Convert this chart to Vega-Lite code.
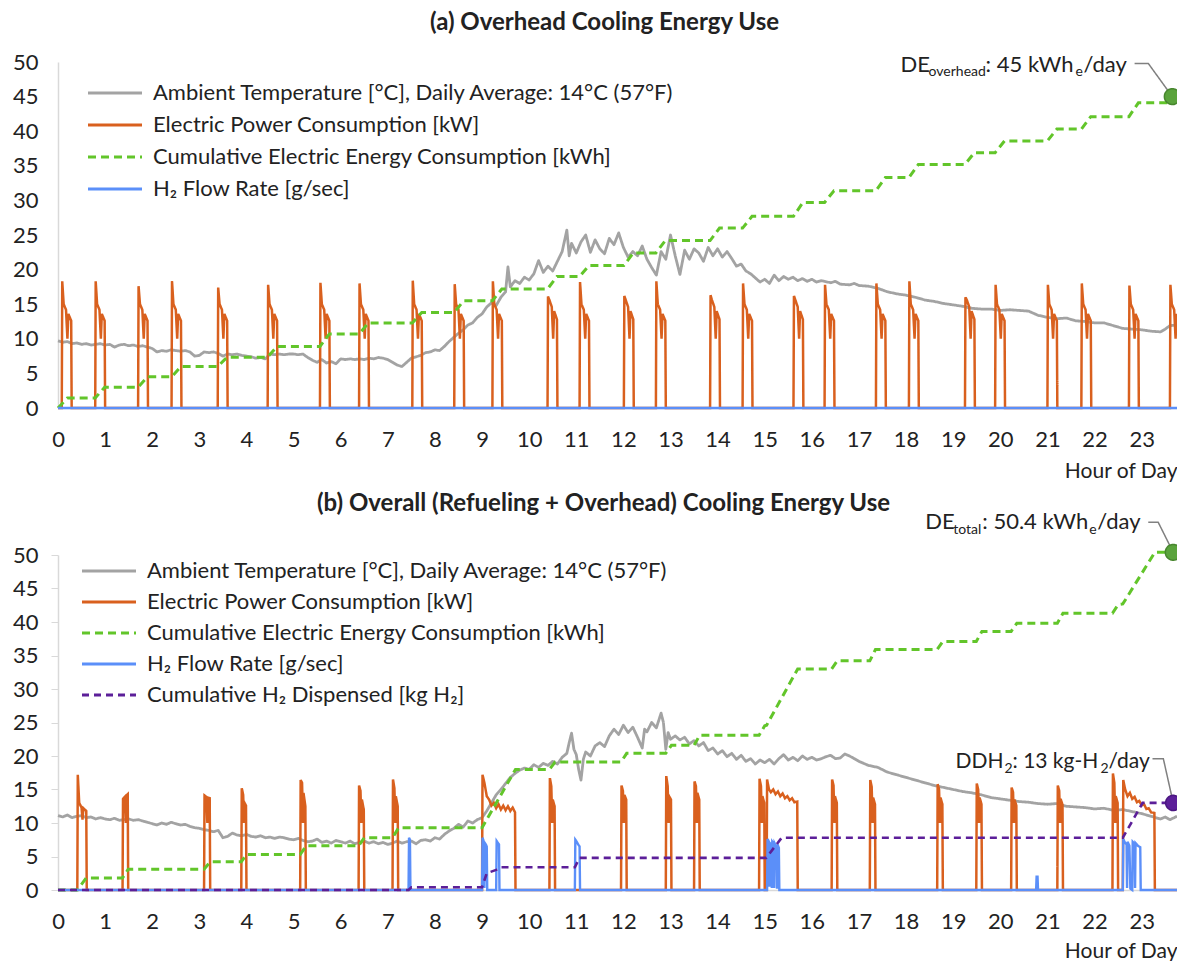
{
"$schema":"https://vega.github.io/schema/vega-lite/v6.json",
"padding":{"left":12,"top":11,"right":0,"bottom":0},
"config":{"font":"Lato","view":{"stroke":null},
"axis":{"labelFont":"Lato","labelFontSize":22,"labelColor":"#222","grid":false,"domainColor":"#d9d9d9","domainWidth":1.5,"tickColor":"#d9d9d9","titleFont":"Lato","titleFontSize":21,"titleFontWeight":"normal","titleColor":"#222"},
"legend":{"orient":"none","title":null,"labelFont":"Lato","labelFontSize":22,"labelColor":"#222","symbolType":"M-3,0H3","symbolSize":324,"symbolStrokeWidth":3,"rowPadding":10,"symbolOffset":18,"labelOffset":27,"labelLimit":800},
"title":{"font":"Lato","fontSize":24,"fontWeight":"bold","color":"#222"}},
"spacing":11,
"resolve":{"scale":{"color":"independent","strokeDash":"independent"},"legend":{"color":"independent","strokeDash":"independent"}},
"datasets":{
"a":[
{"s":"temp","t":0,"v":9.7},{"s":"temp","t":0.1,"v":9.5},{"s":"temp","t":0.2,"v":9.6},{"s":"temp","t":0.3,"v":9.3},{"s":"temp","t":0.4,"v":9.4},{"s":"temp","t":0.5,"v":9.2},{"s":"temp","t":0.6,"v":9.3},{"s":"temp","t":0.7,"v":9.1},{"s":"temp","t":0.8,"v":9.2},{"s":"temp","t":0.9,"v":9.3},{"s":"temp","t":1.0,"v":9.1},{"s":"temp","t":1.1,"v":9.2},{"s":"temp","t":1.2,"v":8.8},{"s":"temp","t":1.3,"v":9.1},{"s":"temp","t":1.4,"v":9.2},{"s":"temp","t":1.5,"v":9.0},{"s":"temp","t":1.6,"v":9.1},{"s":"temp","t":1.7,"v":8.9},{"s":"temp","t":1.8,"v":9.0},{"s":"temp","t":1.9,"v":8.8},{"s":"temp","t":2.0,"v":8.6},{"s":"temp","t":2.1,"v":8.1},{"s":"temp","t":2.2,"v":8.3},{"s":"temp","t":2.3,"v":8.2},{"s":"temp","t":2.4,"v":8.4},{"s":"temp","t":2.5,"v":8.3},{"s":"temp","t":2.6,"v":8.2},{"s":"temp","t":2.7,"v":8.3},{"s":"temp","t":2.8,"v":8.1},{"s":"temp","t":2.9,"v":7.5},{"s":"temp","t":3.0,"v":7.6},{"s":"temp","t":3.1,"v":8.1},{"s":"temp","t":3.2,"v":8.0},{"s":"temp","t":3.3,"v":8.1},{"s":"temp","t":3.4,"v":7.9},{"s":"temp","t":3.5,"v":7.5},{"s":"temp","t":3.6,"v":7.8},{"s":"temp","t":3.7,"v":7.7},{"s":"temp","t":3.8,"v":7.8},{"s":"temp","t":3.9,"v":7.6},{"s":"temp","t":4.0,"v":7.5},{"s":"temp","t":4.1,"v":7.4},{"s":"temp","t":4.2,"v":7.2},{"s":"temp","t":4.3,"v":7.3},{"s":"temp","t":4.4,"v":7.1},{"s":"temp","t":4.5,"v":7.8},{"s":"temp","t":4.6,"v":7.7},{"s":"temp","t":4.7,"v":7.8},{"s":"temp","t":4.8,"v":7.7},{"s":"temp","t":4.9,"v":7.8},{"s":"temp","t":5.0,"v":7.8},{"s":"temp","t":5.1,"v":7.7},{"s":"temp","t":5.2,"v":7.8},{"s":"temp","t":5.3,"v":7.3},{"s":"temp","t":5.4,"v":6.9},{"s":"temp","t":5.5,"v":6.6},{"s":"temp","t":5.6,"v":7.0},{"s":"temp","t":5.7,"v":6.5},{"s":"temp","t":5.8,"v":6.7},{"s":"temp","t":5.9,"v":6.4},{"s":"temp","t":6.0,"v":7.1},{"s":"temp","t":6.1,"v":7.0},{"s":"temp","t":6.2,"v":7.1},{"s":"temp","t":6.3,"v":7.0},{"s":"temp","t":6.4,"v":7.1},{"s":"temp","t":6.5,"v":7.0},{"s":"temp","t":6.6,"v":7.2},{"s":"temp","t":6.7,"v":7.1},{"s":"temp","t":6.8,"v":7.3},{"s":"temp","t":6.9,"v":7.2},{"s":"temp","t":7.0,"v":7.0},{"s":"temp","t":7.1,"v":6.6},{"s":"temp","t":7.2,"v":6.2},{"s":"temp","t":7.3,"v":6.0},{"s":"temp","t":7.4,"v":6.6},{"s":"temp","t":7.5,"v":7.2},{"s":"temp","t":7.6,"v":7.4},{"s":"temp","t":7.7,"v":7.6},{"s":"temp","t":7.8,"v":8.0},{"s":"temp","t":7.9,"v":8.1},{"s":"temp","t":8.0,"v":8.4},{"s":"temp","t":8.1,"v":8.3},{"s":"temp","t":8.2,"v":8.9},{"s":"temp","t":8.3,"v":9.6},{"s":"temp","t":8.4,"v":10.2},{"s":"temp","t":8.5,"v":10.8},{"s":"temp","t":8.6,"v":11.3},{"s":"temp","t":8.7,"v":12.0},{"s":"temp","t":8.8,"v":12.3},{"s":"temp","t":8.9,"v":13.1},{"s":"temp","t":9.0,"v":13.6},{"s":"temp","t":9.1,"v":14.6},{"s":"temp","t":9.2,"v":15.2},{"s":"temp","t":9.3,"v":14.8},{"s":"temp","t":9.4,"v":16.0},{"s":"temp","t":9.5,"v":16.8},{"s":"temp","t":9.55,"v":20.4},{"s":"temp","t":9.6,"v":17.5},{"s":"temp","t":9.7,"v":18.4},{"s":"temp","t":9.8,"v":18.0},{"s":"temp","t":9.9,"v":18.9},{"s":"temp","t":10.0,"v":18.5},{"s":"temp","t":10.1,"v":19.4},{"s":"temp","t":10.2,"v":21.3},{"s":"temp","t":10.3,"v":19.6},{"s":"temp","t":10.4,"v":20.5},{"s":"temp","t":10.5,"v":19.8},{"s":"temp","t":10.6,"v":21.2},{"s":"temp","t":10.7,"v":22.6},{"s":"temp","t":10.8,"v":25.7},{"s":"temp","t":10.85,"v":22.0},{"s":"temp","t":10.9,"v":23.8},{"s":"temp","t":11.0,"v":22.4},{"s":"temp","t":11.1,"v":24.0},{"s":"temp","t":11.2,"v":25.0},{"s":"temp","t":11.3,"v":22.5},{"s":"temp","t":11.4,"v":24.3},{"s":"temp","t":11.5,"v":23.0},{"s":"temp","t":11.6,"v":22.3},{"s":"temp","t":11.7,"v":24.5},{"s":"temp","t":11.8,"v":23.6},{"s":"temp","t":11.9,"v":25.3},{"s":"temp","t":12.0,"v":23.2},{"s":"temp","t":12.1,"v":21.8},{"s":"temp","t":12.2,"v":22.6},{"s":"temp","t":12.3,"v":22.0},{"s":"temp","t":12.4,"v":23.4},{"s":"temp","t":12.5,"v":21.5},{"s":"temp","t":12.6,"v":20.3},{"s":"temp","t":12.7,"v":19.2},{"s":"temp","t":12.8,"v":22.6},{"s":"temp","t":12.9,"v":21.5},{"s":"temp","t":13.0,"v":25.0},{"s":"temp","t":13.1,"v":22.0},{"s":"temp","t":13.2,"v":19.3},{"s":"temp","t":13.3,"v":22.8},{"s":"temp","t":13.4,"v":21.5},{"s":"temp","t":13.5,"v":23.0},{"s":"temp","t":13.6,"v":22.4},{"s":"temp","t":13.7,"v":21.2},{"s":"temp","t":13.8,"v":23.2},{"s":"temp","t":13.9,"v":22.0},{"s":"temp","t":14.0,"v":23.0},{"s":"temp","t":14.1,"v":21.8},{"s":"temp","t":14.2,"v":22.6},{"s":"temp","t":14.3,"v":21.6},{"s":"temp","t":14.4,"v":20.5},{"s":"temp","t":14.5,"v":20.8},{"s":"temp","t":14.6,"v":19.8},{"s":"temp","t":14.7,"v":19.4},{"s":"temp","t":14.8,"v":18.8},{"s":"temp","t":14.9,"v":18.2},{"s":"temp","t":15.0,"v":18.6},{"s":"temp","t":15.1,"v":18.0},{"s":"temp","t":15.2,"v":19.2},{"s":"temp","t":15.3,"v":18.4},{"s":"temp","t":15.4,"v":19.0},{"s":"temp","t":15.5,"v":18.6},{"s":"temp","t":15.6,"v":18.9},{"s":"temp","t":15.7,"v":18.4},{"s":"temp","t":15.8,"v":18.7},{"s":"temp","t":15.9,"v":18.3},{"s":"temp","t":16.0,"v":18.6},{"s":"temp","t":16.1,"v":18.2},{"s":"temp","t":16.2,"v":18.4},{"s":"temp","t":16.4,"v":18.1},{"s":"temp","t":16.5,"v":18.3},{"s":"temp","t":16.6,"v":17.9},{"s":"temp","t":16.8,"v":17.8},{"s":"temp","t":16.9,"v":18.0},{"s":"temp","t":17.0,"v":17.7},{"s":"temp","t":17.2,"v":17.6},{"s":"temp","t":17.4,"v":17.3},{"s":"temp","t":17.6,"v":16.8},{"s":"temp","t":17.8,"v":16.5},{"s":"temp","t":18.0,"v":16.3},{"s":"temp","t":18.2,"v":16.0},{"s":"temp","t":18.4,"v":15.6},{"s":"temp","t":18.6,"v":15.4},{"s":"temp","t":18.8,"v":15.1},{"s":"temp","t":19.0,"v":14.9},{"s":"temp","t":19.2,"v":14.7},{"s":"temp","t":19.4,"v":14.4},{"s":"temp","t":19.6,"v":14.3},{"s":"temp","t":19.8,"v":14.3},{"s":"temp","t":20.0,"v":14.1},{"s":"temp","t":20.2,"v":14.2},{"s":"temp","t":20.4,"v":14.1},{"s":"temp","t":20.6,"v":14.0},{"s":"temp","t":20.8,"v":13.4},{"s":"temp","t":21.0,"v":13.1},{"s":"temp","t":21.2,"v":12.9},{"s":"temp","t":21.4,"v":13.0},{"s":"temp","t":21.6,"v":12.6},{"s":"temp","t":21.8,"v":12.5},{"s":"temp","t":22.0,"v":12.3},{"s":"temp","t":22.2,"v":12.3},{"s":"temp","t":22.4,"v":11.9},{"s":"temp","t":22.6,"v":11.5},{"s":"temp","t":22.8,"v":11.4},{"s":"temp","t":23.0,"v":11.3},{"s":"temp","t":23.2,"v":11.1},{"s":"temp","t":23.4,"v":11.0},{"s":"temp","t":23.5,"v":11.4},{"s":"temp","t":23.6,"v":11.9},{"s":"temp","t":23.75,"v":12.0},
{"s":"power","t":0,"v":0},
{"s":"power","t":0.08,"v":0},{"s":"power","t":0.09,"v":18.3},{"s":"power","t":0.12,"v":15},{"s":"power","t":0.17,"v":14.2},{"s":"power","t":0.2,"v":10},{"s":"power","t":0.22,"v":13.6},{"s":"power","t":0.28,"v":12.6},{"s":"power","t":0.29,"v":0},
{"s":"power","t":0.79,"v":0},{"s":"power","t":0.8,"v":18.3},{"s":"power","t":0.83,"v":15},{"s":"power","t":0.88,"v":14.2},{"s":"power","t":0.91,"v":10},{"s":"power","t":0.93,"v":13.6},{"s":"power","t":0.99,"v":12.6},{"s":"power","t":1.0,"v":0},
{"s":"power","t":1.7,"v":0},{"s":"power","t":1.71,"v":17.6},{"s":"power","t":1.74,"v":15},{"s":"power","t":1.79,"v":14.2},{"s":"power","t":1.82,"v":10},{"s":"power","t":1.84,"v":13.6},{"s":"power","t":1.9,"v":12.6},{"s":"power","t":1.91,"v":0},
{"s":"power","t":2.41,"v":0},{"s":"power","t":2.42,"v":18.3},{"s":"power","t":2.45,"v":15},{"s":"power","t":2.5,"v":14.2},{"s":"power","t":2.53,"v":10},{"s":"power","t":2.55,"v":13.6},{"s":"power","t":2.61,"v":12.6},{"s":"power","t":2.62,"v":0},
{"s":"power","t":3.39,"v":0},{"s":"power","t":3.4,"v":17.4},{"s":"power","t":3.43,"v":15},{"s":"power","t":3.48,"v":14.2},{"s":"power","t":3.51,"v":10},{"s":"power","t":3.53,"v":13.6},{"s":"power","t":3.59,"v":12.6},{"s":"power","t":3.6,"v":0},
{"s":"power","t":4.45,"v":0},{"s":"power","t":4.46,"v":17.8},{"s":"power","t":4.49,"v":15},{"s":"power","t":4.54,"v":14.2},{"s":"power","t":4.57,"v":10},{"s":"power","t":4.59,"v":13.6},{"s":"power","t":4.65,"v":12.6},{"s":"power","t":4.66,"v":0},
{"s":"power","t":5.56,"v":0},{"s":"power","t":5.57,"v":18.1},{"s":"power","t":5.6,"v":15},{"s":"power","t":5.65,"v":14.2},{"s":"power","t":5.68,"v":10},{"s":"power","t":5.7,"v":13.6},{"s":"power","t":5.76,"v":12.6},{"s":"power","t":5.77,"v":0},
{"s":"power","t":6.39,"v":0},{"s":"power","t":6.4,"v":18.0},{"s":"power","t":6.43,"v":15},{"s":"power","t":6.48,"v":14.2},{"s":"power","t":6.51,"v":10},{"s":"power","t":6.53,"v":13.6},{"s":"power","t":6.59,"v":12.6},{"s":"power","t":6.6,"v":0},
{"s":"power","t":7.52,"v":0},{"s":"power","t":7.53,"v":18.4},{"s":"power","t":7.56,"v":15},{"s":"power","t":7.61,"v":14.2},{"s":"power","t":7.64,"v":10},{"s":"power","t":7.66,"v":13.6},{"s":"power","t":7.72,"v":12.6},{"s":"power","t":7.73,"v":0},
{"s":"power","t":8.41,"v":0},{"s":"power","t":8.42,"v":17.9},{"s":"power","t":8.45,"v":15},{"s":"power","t":8.5,"v":14.2},{"s":"power","t":8.53,"v":10},{"s":"power","t":8.55,"v":13.6},{"s":"power","t":8.61,"v":12.6},{"s":"power","t":8.62,"v":0},
{"s":"power","t":9.22,"v":0},{"s":"power","t":9.23,"v":18.3},{"s":"power","t":9.26,"v":15},{"s":"power","t":9.31,"v":14.2},{"s":"power","t":9.34,"v":10},{"s":"power","t":9.36,"v":13.6},{"s":"power","t":9.42,"v":12.6},{"s":"power","t":9.43,"v":0},
{"s":"power","t":10.39,"v":0},{"s":"power","t":10.4,"v":16.1},{"s":"power","t":10.43,"v":15.6},{"s":"power","t":10.48,"v":14.6},{"s":"power","t":10.51,"v":10},{"s":"power","t":10.53,"v":14},{"s":"power","t":10.59,"v":12.8},{"s":"power","t":10.6,"v":0},
{"s":"power","t":11.07,"v":0},{"s":"power","t":11.08,"v":18.2},{"s":"power","t":11.11,"v":15},{"s":"power","t":11.16,"v":14.2},{"s":"power","t":11.19,"v":10},{"s":"power","t":11.21,"v":13.6},{"s":"power","t":11.27,"v":12.6},{"s":"power","t":11.28,"v":0},
{"s":"power","t":12.01,"v":0},{"s":"power","t":12.02,"v":16.2},{"s":"power","t":12.05,"v":15.6},{"s":"power","t":12.1,"v":14.6},{"s":"power","t":12.13,"v":10},{"s":"power","t":12.15,"v":14},{"s":"power","t":12.21,"v":12.8},{"s":"power","t":12.22,"v":0},
{"s":"power","t":12.69,"v":0},{"s":"power","t":12.7,"v":18.3},{"s":"power","t":12.73,"v":15},{"s":"power","t":12.78,"v":14.2},{"s":"power","t":12.81,"v":10},{"s":"power","t":12.83,"v":13.6},{"s":"power","t":12.89,"v":12.6},{"s":"power","t":12.9,"v":0},
{"s":"power","t":13.84,"v":0},{"s":"power","t":13.85,"v":16.3},{"s":"power","t":13.88,"v":15.6},{"s":"power","t":13.93,"v":14.6},{"s":"power","t":13.96,"v":10},{"s":"power","t":13.98,"v":14},{"s":"power","t":14.04,"v":12.8},{"s":"power","t":14.05,"v":0},
{"s":"power","t":14.53,"v":0},{"s":"power","t":14.54,"v":18.0},{"s":"power","t":14.57,"v":15},{"s":"power","t":14.62,"v":14.2},{"s":"power","t":14.65,"v":10},{"s":"power","t":14.67,"v":13.6},{"s":"power","t":14.73,"v":12.6},{"s":"power","t":14.74,"v":0},
{"s":"power","t":15.61,"v":0},{"s":"power","t":15.62,"v":16.2},{"s":"power","t":15.65,"v":15.6},{"s":"power","t":15.7,"v":14.6},{"s":"power","t":15.73,"v":10},{"s":"power","t":15.75,"v":14},{"s":"power","t":15.81,"v":12.8},{"s":"power","t":15.82,"v":0},
{"s":"power","t":16.27,"v":0},{"s":"power","t":16.28,"v":17.8},{"s":"power","t":16.31,"v":15},{"s":"power","t":16.36,"v":14.2},{"s":"power","t":16.39,"v":10},{"s":"power","t":16.41,"v":13.6},{"s":"power","t":16.47,"v":12.6},{"s":"power","t":16.48,"v":0},
{"s":"power","t":17.36,"v":0},{"s":"power","t":17.37,"v":18.0},{"s":"power","t":17.4,"v":15},{"s":"power","t":17.45,"v":14.2},{"s":"power","t":17.48,"v":10},{"s":"power","t":17.5,"v":13.6},{"s":"power","t":17.56,"v":12.6},{"s":"power","t":17.57,"v":0},
{"s":"power","t":18.06,"v":0},{"s":"power","t":18.07,"v":18.3},{"s":"power","t":18.1,"v":15},{"s":"power","t":18.15,"v":14.2},{"s":"power","t":18.18,"v":10},{"s":"power","t":18.2,"v":13.6},{"s":"power","t":18.26,"v":12.6},{"s":"power","t":18.27,"v":0},
{"s":"power","t":19.25,"v":0},{"s":"power","t":19.26,"v":16.0},{"s":"power","t":19.29,"v":15.6},{"s":"power","t":19.34,"v":14.6},{"s":"power","t":19.37,"v":10},{"s":"power","t":19.39,"v":14},{"s":"power","t":19.45,"v":12.8},{"s":"power","t":19.46,"v":0},
{"s":"power","t":19.89,"v":0},{"s":"power","t":19.9,"v":17.8},{"s":"power","t":19.93,"v":15},{"s":"power","t":19.98,"v":14.2},{"s":"power","t":20.01,"v":10},{"s":"power","t":20.03,"v":13.6},{"s":"power","t":20.09,"v":12.6},{"s":"power","t":20.1,"v":0},
{"s":"power","t":21.0,"v":0},{"s":"power","t":21.01,"v":17.8},{"s":"power","t":21.04,"v":15},{"s":"power","t":21.09,"v":14.2},{"s":"power","t":21.12,"v":10},{"s":"power","t":21.14,"v":13.6},{"s":"power","t":21.2,"v":12.6},{"s":"power","t":21.21,"v":0},
{"s":"power","t":21.72,"v":0},{"s":"power","t":21.73,"v":18.0},{"s":"power","t":21.76,"v":15},{"s":"power","t":21.81,"v":14.2},{"s":"power","t":21.84,"v":10},{"s":"power","t":21.86,"v":13.6},{"s":"power","t":21.92,"v":12.6},{"s":"power","t":21.93,"v":0},
{"s":"power","t":22.73,"v":0},{"s":"power","t":22.74,"v":17.7},{"s":"power","t":22.77,"v":15},{"s":"power","t":22.82,"v":14.2},{"s":"power","t":22.85,"v":10},{"s":"power","t":22.87,"v":13.6},{"s":"power","t":22.93,"v":12.6},{"s":"power","t":22.94,"v":0},
{"s":"power","t":23.6,"v":0},{"s":"power","t":23.61,"v":17.8},{"s":"power","t":23.64,"v":15},{"s":"power","t":23.69,"v":14.2},{"s":"power","t":23.72,"v":10},{"s":"power","t":23.74,"v":13.6},{"s":"power","t":23.75,"v":13.3},
{"s":"cum","t":0,"v":0},{"s":"cum","t":0.2,"v":1.45},{"s":"cum","t":0.79,"v":1.45},{"s":"cum","t":0.99,"v":3.0},{"s":"cum","t":1.7,"v":3.0},{"s":"cum","t":1.9,"v":4.5},{"s":"cum","t":2.41,"v":4.5},{"s":"cum","t":2.61,"v":6.0},{"s":"cum","t":3.39,"v":6.0},{"s":"cum","t":3.59,"v":7.35},{"s":"cum","t":4.45,"v":7.35},{"s":"cum","t":4.65,"v":8.9},{"s":"cum","t":5.56,"v":8.9},{"s":"cum","t":5.76,"v":10.7},{"s":"cum","t":6.39,"v":10.7},{"s":"cum","t":6.59,"v":12.3},{"s":"cum","t":7.52,"v":12.3},{"s":"cum","t":7.72,"v":13.8},{"s":"cum","t":8.41,"v":13.8},{"s":"cum","t":8.61,"v":15.5},{"s":"cum","t":9.22,"v":15.5},{"s":"cum","t":9.42,"v":17.2},{"s":"cum","t":10.39,"v":17.2},{"s":"cum","t":10.59,"v":19.0},{"s":"cum","t":11.07,"v":19.0},{"s":"cum","t":11.27,"v":20.6},{"s":"cum","t":12.01,"v":20.6},{"s":"cum","t":12.21,"v":22.4},{"s":"cum","t":12.69,"v":22.4},{"s":"cum","t":12.89,"v":24.2},{"s":"cum","t":13.84,"v":24.2},{"s":"cum","t":14.04,"v":26.0},{"s":"cum","t":14.53,"v":26.0},{"s":"cum","t":14.73,"v":27.7},{"s":"cum","t":15.61,"v":27.7},{"s":"cum","t":15.81,"v":29.7},{"s":"cum","t":16.27,"v":29.7},{"s":"cum","t":16.47,"v":31.4},{"s":"cum","t":17.36,"v":31.4},{"s":"cum","t":17.56,"v":33.3},{"s":"cum","t":18.06,"v":33.3},{"s":"cum","t":18.26,"v":35.2},{"s":"cum","t":19.25,"v":35.2},{"s":"cum","t":19.45,"v":36.9},{"s":"cum","t":19.89,"v":36.9},{"s":"cum","t":20.09,"v":38.6},{"s":"cum","t":21.0,"v":38.6},{"s":"cum","t":21.2,"v":40.3},{"s":"cum","t":21.72,"v":40.3},{"s":"cum","t":21.92,"v":42.1},{"s":"cum","t":22.73,"v":42.1},{"s":"cum","t":22.93,"v":44.1},{"s":"cum","t":23.6,"v":44.1},{"s":"cum","t":23.65,"v":44.4},
{"s":"flow","t":0,"v":0},{"s":"flow","t":23.75,"v":0}
],
"b":[
{"s":"temp","t":0,"v":11.1},{"s":"temp","t":0.1,"v":10.9},{"s":"temp","t":0.2,"v":11.2},{"s":"temp","t":0.3,"v":10.8},{"s":"temp","t":0.4,"v":11.0},{"s":"temp","t":0.5,"v":11.1},{"s":"temp","t":0.6,"v":10.8},{"s":"temp","t":0.7,"v":10.9},{"s":"temp","t":0.8,"v":10.6},{"s":"temp","t":0.9,"v":10.8},{"s":"temp","t":1.0,"v":10.6},{"s":"temp","t":1.1,"v":10.5},{"s":"temp","t":1.2,"v":10.7},{"s":"temp","t":1.3,"v":10.4},{"s":"temp","t":1.4,"v":10.5},{"s":"temp","t":1.5,"v":10.6},{"s":"temp","t":1.6,"v":10.4},{"s":"temp","t":1.7,"v":10.5},{"s":"temp","t":1.8,"v":10.3},{"s":"temp","t":1.9,"v":10.1},{"s":"temp","t":2.0,"v":9.9},{"s":"temp","t":2.1,"v":9.7},{"s":"temp","t":2.2,"v":10.0},{"s":"temp","t":2.3,"v":9.8},{"s":"temp","t":2.4,"v":10.1},{"s":"temp","t":2.5,"v":9.9},{"s":"temp","t":2.6,"v":9.7},{"s":"temp","t":2.7,"v":9.8},{"s":"temp","t":2.8,"v":9.5},{"s":"temp","t":2.9,"v":9.3},{"s":"temp","t":3.0,"v":9.2},{"s":"temp","t":3.1,"v":9.0},{"s":"temp","t":3.2,"v":8.9},{"s":"temp","t":3.3,"v":8.7},{"s":"temp","t":3.4,"v":8.9},{"s":"temp","t":3.5,"v":7.8},{"s":"temp","t":3.6,"v":8.0},{"s":"temp","t":3.7,"v":8.5},{"s":"temp","t":3.8,"v":8.2},{"s":"temp","t":3.9,"v":8.1},{"s":"temp","t":4.0,"v":8.3},{"s":"temp","t":4.1,"v":8.0},{"s":"temp","t":4.2,"v":7.9},{"s":"temp","t":4.3,"v":8.1},{"s":"temp","t":4.4,"v":7.8},{"s":"temp","t":4.5,"v":7.9},{"s":"temp","t":4.6,"v":7.7},{"s":"temp","t":4.7,"v":7.9},{"s":"temp","t":4.8,"v":7.8},{"s":"temp","t":4.9,"v":7.6},{"s":"temp","t":5.0,"v":7.5},{"s":"temp","t":5.1,"v":7.7},{"s":"temp","t":5.2,"v":7.4},{"s":"temp","t":5.3,"v":7.2},{"s":"temp","t":5.4,"v":7.3},{"s":"temp","t":5.5,"v":7.6},{"s":"temp","t":5.6,"v":7.1},{"s":"temp","t":5.7,"v":7.3},{"s":"temp","t":5.8,"v":7.0},{"s":"temp","t":5.9,"v":7.4},{"s":"temp","t":6.0,"v":7.2},{"s":"temp","t":6.1,"v":7.0},{"s":"temp","t":6.2,"v":7.3},{"s":"temp","t":6.3,"v":6.9},{"s":"temp","t":6.4,"v":7.1},{"s":"temp","t":6.5,"v":7.3},{"s":"temp","t":6.6,"v":7.0},{"s":"temp","t":6.7,"v":7.2},{"s":"temp","t":6.8,"v":6.9},{"s":"temp","t":6.9,"v":7.1},{"s":"temp","t":7.0,"v":6.8},{"s":"temp","t":7.1,"v":7.0},{"s":"temp","t":7.2,"v":7.3},{"s":"temp","t":7.3,"v":7.0},{"s":"temp","t":7.4,"v":7.2},{"s":"temp","t":7.5,"v":7.3},{"s":"temp","t":7.6,"v":6.9},{"s":"temp","t":7.7,"v":7.4},{"s":"temp","t":7.8,"v":7.5},{"s":"temp","t":7.9,"v":7.3},{"s":"temp","t":8.0,"v":7.8},{"s":"temp","t":8.1,"v":7.6},{"s":"temp","t":8.2,"v":8.3},{"s":"temp","t":8.3,"v":8.8},{"s":"temp","t":8.4,"v":9.2},{"s":"temp","t":8.5,"v":9.8},{"s":"temp","t":8.6,"v":9.4},{"s":"temp","t":8.7,"v":10.3},{"s":"temp","t":8.8,"v":10.0},{"s":"temp","t":8.9,"v":10.5},{"s":"temp","t":9.0,"v":10.8},{"s":"temp","t":9.1,"v":11.8},{"s":"temp","t":9.2,"v":13.0},{"s":"temp","t":9.3,"v":14.2},{"s":"temp","t":9.4,"v":15.0},{"s":"temp","t":9.5,"v":15.9},{"s":"temp","t":9.6,"v":16.8},{"s":"temp","t":9.7,"v":17.4},{"s":"temp","t":9.8,"v":17.9},{"s":"temp","t":9.9,"v":18.2},{"s":"temp","t":10.0,"v":18.0},{"s":"temp","t":10.1,"v":18.7},{"s":"temp","t":10.2,"v":18.3},{"s":"temp","t":10.3,"v":18.9},{"s":"temp","t":10.4,"v":18.6},{"s":"temp","t":10.5,"v":19.2},{"s":"temp","t":10.6,"v":18.8},{"s":"temp","t":10.7,"v":19.8},{"s":"temp","t":10.8,"v":20.4},{"s":"temp","t":10.85,"v":22.0},{"s":"temp","t":10.9,"v":23.4},{"s":"temp","t":10.95,"v":21.0},{"s":"temp","t":11.0,"v":20.2},{"s":"temp","t":11.05,"v":18.0},{"s":"temp","t":11.1,"v":16.4},{"s":"temp","t":11.15,"v":19.5},{"s":"temp","t":11.2,"v":20.6},{"s":"temp","t":11.3,"v":20.0},{"s":"temp","t":11.4,"v":21.5},{"s":"temp","t":11.5,"v":22.0},{"s":"temp","t":11.6,"v":21.4},{"s":"temp","t":11.7,"v":23.0},{"s":"temp","t":11.8,"v":24.0},{"s":"temp","t":11.9,"v":23.2},{"s":"temp","t":12.0,"v":24.6},{"s":"temp","t":12.1,"v":23.5},{"s":"temp","t":12.2,"v":24.3},{"s":"temp","t":12.3,"v":22.8},{"s":"temp","t":12.4,"v":21.2},{"s":"temp","t":12.45,"v":24.0},{"s":"temp","t":12.5,"v":23.6},{"s":"temp","t":12.6,"v":25.0},{"s":"temp","t":12.7,"v":24.2},{"s":"temp","t":12.8,"v":26.4},{"s":"temp","t":12.85,"v":25.0},{"s":"temp","t":12.9,"v":21.0},{"s":"temp","t":12.95,"v":23.5},{"s":"temp","t":13.0,"v":22.5},{"s":"temp","t":13.1,"v":23.0},{"s":"temp","t":13.2,"v":22.4},{"s":"temp","t":13.3,"v":22.8},{"s":"temp","t":13.4,"v":21.8},{"s":"temp","t":13.5,"v":22.3},{"s":"temp","t":13.6,"v":21.5},{"s":"temp","t":13.7,"v":22.0},{"s":"temp","t":13.8,"v":20.8},{"s":"temp","t":13.9,"v":21.2},{"s":"temp","t":14.0,"v":20.3},{"s":"temp","t":14.1,"v":20.8},{"s":"temp","t":14.2,"v":19.9},{"s":"temp","t":14.3,"v":20.4},{"s":"temp","t":14.4,"v":19.5},{"s":"temp","t":14.5,"v":20.1},{"s":"temp","t":14.6,"v":19.2},{"s":"temp","t":14.7,"v":19.6},{"s":"temp","t":14.8,"v":18.8},{"s":"temp","t":14.9,"v":19.4},{"s":"temp","t":15.0,"v":19.0},{"s":"temp","t":15.1,"v":19.5},{"s":"temp","t":15.2,"v":18.8},{"s":"temp","t":15.3,"v":19.6},{"s":"temp","t":15.4,"v":20.2},{"s":"temp","t":15.5,"v":19.4},{"s":"temp","t":15.6,"v":19.8},{"s":"temp","t":15.7,"v":19.3},{"s":"temp","t":15.8,"v":20.0},{"s":"temp","t":15.9,"v":19.5},{"s":"temp","t":16.0,"v":19.8},{"s":"temp","t":16.1,"v":19.4},{"s":"temp","t":16.2,"v":19.6},{"s":"temp","t":16.3,"v":19.9},{"s":"temp","t":16.4,"v":20.1},{"s":"temp","t":16.5,"v":19.6},{"s":"temp","t":16.6,"v":19.7},{"s":"temp","t":16.7,"v":20.3},{"s":"temp","t":16.8,"v":20.0},{"s":"temp","t":16.9,"v":19.6},{"s":"temp","t":17.0,"v":19.2},{"s":"temp","t":17.2,"v":18.6},{"s":"temp","t":17.4,"v":18.3},{"s":"temp","t":17.6,"v":17.6},{"s":"temp","t":17.8,"v":17.2},{"s":"temp","t":18.0,"v":16.8},{"s":"temp","t":18.2,"v":16.4},{"s":"temp","t":18.4,"v":16.0},{"s":"temp","t":18.6,"v":15.6},{"s":"temp","t":18.8,"v":15.3},{"s":"temp","t":19.0,"v":15.0},{"s":"temp","t":19.2,"v":14.7},{"s":"temp","t":19.4,"v":14.5},{"s":"temp","t":19.6,"v":14.2},{"s":"temp","t":19.8,"v":13.8},{"s":"temp","t":20.0,"v":13.6},{"s":"temp","t":20.2,"v":13.4},{"s":"temp","t":20.4,"v":13.2},{"s":"temp","t":20.6,"v":13.1},{"s":"temp","t":20.8,"v":12.9},{"s":"temp","t":21.0,"v":12.8},{"s":"temp","t":21.2,"v":12.9},{"s":"temp","t":21.4,"v":12.5},{"s":"temp","t":21.6,"v":12.4},{"s":"temp","t":21.8,"v":12.3},{"s":"temp","t":22.0,"v":12.1},{"s":"temp","t":22.2,"v":12.2},{"s":"temp","t":22.4,"v":11.9},{"s":"temp","t":22.6,"v":12.0},{"s":"temp","t":22.8,"v":11.7},{"s":"temp","t":23.0,"v":11.4},{"s":"temp","t":23.2,"v":11.0},{"s":"temp","t":23.4,"v":10.6},{"s":"temp","t":23.5,"v":10.9},{"s":"temp","t":23.6,"v":10.5},{"s":"temp","t":23.75,"v":11.0},
{"s":"power","t":0,"v":0},
{"s":"power","t":0.41,"v":0},{"s":"power","t":0.42,"v":17.2},{"s":"power","t":0.45,"v":13},{"s":"power","t":0.5,"v":12.3},{"s":"power","t":0.52,"v":10.5},{"s":"power","t":0.54,"v":12.2},{"s":"power","t":0.6,"v":11.8},{"s":"power","t":0.61,"v":0},
{"s":"power","t":1.37,"v":0},{"s":"power","t":1.38,"v":13.6},{"s":"power","t":1.42,"v":13.9},{"s":"power","t":1.44,"v":10},{"s":"power","t":1.45,"v":14.1},{"s":"power","t":1.48,"v":14.3},{"s":"power","t":1.49,"v":0},
{"s":"power","t":3.1,"v":0},{"s":"power","t":3.11,"v":14.1},{"s":"power","t":3.15,"v":13.9},{"s":"power","t":3.17,"v":10},{"s":"power","t":3.18,"v":13.8},{"s":"power","t":3.22,"v":13.7},{"s":"power","t":3.23,"v":0},
{"s":"power","t":3.89,"v":0},{"s":"power","t":3.9,"v":15.2},{"s":"power","t":3.93,"v":14.2},{"s":"power","t":3.95,"v":10},{"s":"power","t":3.96,"v":13},{"s":"power","t":3.99,"v":12.6},{"s":"power","t":4.0,"v":0},
{"s":"power","t":5.14,"v":0},{"s":"power","t":5.15,"v":16.4},{"s":"power","t":5.18,"v":16.0},{"s":"power","t":5.2,"v":10},{"s":"power","t":5.21,"v":14.5},{"s":"power","t":5.25,"v":12.5},{"s":"power","t":5.26,"v":0},
{"s":"power","t":6.38,"v":0},{"s":"power","t":6.39,"v":15.6},{"s":"power","t":6.42,"v":14.8},{"s":"power","t":6.44,"v":10},{"s":"power","t":6.45,"v":13.5},{"s":"power","t":6.49,"v":12.0},{"s":"power","t":6.5,"v":0},
{"s":"power","t":7.1,"v":0},{"s":"power","t":7.11,"v":16.5},{"s":"power","t":7.14,"v":15.2},{"s":"power","t":7.16,"v":10},{"s":"power","t":7.17,"v":14},{"s":"power","t":7.21,"v":12.5},{"s":"power","t":7.22,"v":0},
{"s":"power","t":9.0,"v":0},{"s":"power","t":9.01,"v":17.2},{"s":"power","t":9.05,"v":16.0},{"s":"power","t":9.1,"v":14.0},{"s":"power","t":9.15,"v":13.5},{"s":"power","t":9.2,"v":12.6},{"s":"power","t":9.25,"v":13.0},{"s":"power","t":9.3,"v":12.2},{"s":"power","t":9.35,"v":12.8},{"s":"power","t":9.4,"v":12.0},{"s":"power","t":9.45,"v":12.6},{"s":"power","t":9.5,"v":11.9},{"s":"power","t":9.55,"v":12.5},{"s":"power","t":9.6,"v":11.8},{"s":"power","t":9.65,"v":12.3},{"s":"power","t":9.7,"v":11.6},{"s":"power","t":9.71,"v":0},
{"s":"power","t":10.43,"v":0},{"s":"power","t":10.44,"v":16.7},{"s":"power","t":10.47,"v":15.5},{"s":"power","t":10.49,"v":10},{"s":"power","t":10.5,"v":13.5},{"s":"power","t":10.54,"v":12.5},{"s":"power","t":10.55,"v":0},
{"s":"power","t":11.95,"v":0},{"s":"power","t":11.96,"v":15.6},{"s":"power","t":11.99,"v":14.8},{"s":"power","t":12.01,"v":10},{"s":"power","t":12.02,"v":14.2},{"s":"power","t":12.06,"v":13.5},{"s":"power","t":12.07,"v":0},
{"s":"power","t":12.9,"v":0},{"s":"power","t":12.91,"v":17.0},{"s":"power","t":12.94,"v":15.5},{"s":"power","t":12.96,"v":10},{"s":"power","t":12.97,"v":14},{"s":"power","t":13.01,"v":13.5},{"s":"power","t":13.02,"v":0},
{"s":"power","t":13.5,"v":0},{"s":"power","t":13.51,"v":16.2},{"s":"power","t":13.54,"v":15.5},{"s":"power","t":13.56,"v":10},{"s":"power","t":13.57,"v":14.5},{"s":"power","t":13.61,"v":13.5},{"s":"power","t":13.62,"v":0},
{"s":"power","t":14.88,"v":0},{"s":"power","t":14.89,"v":16.6},{"s":"power","t":14.92,"v":15.5},{"s":"power","t":14.94,"v":10},{"s":"power","t":14.95,"v":14},{"s":"power","t":14.99,"v":13},{"s":"power","t":15.0,"v":0},
{"s":"power","t":15.04,"v":0},{"s":"power","t":15.05,"v":16.5},{"s":"power","t":15.09,"v":15.0},{"s":"power","t":15.13,"v":14.6},{"s":"power","t":15.18,"v":15.0},{"s":"power","t":15.23,"v":14.3},{"s":"power","t":15.28,"v":14.7},{"s":"power","t":15.33,"v":14.0},{"s":"power","t":15.38,"v":14.4},{"s":"power","t":15.43,"v":13.7},{"s":"power","t":15.48,"v":14.0},{"s":"power","t":15.53,"v":13.4},{"s":"power","t":15.58,"v":13.7},{"s":"power","t":15.63,"v":13.1},{"s":"power","t":15.69,"v":13.2},{"s":"power","t":15.7,"v":0},
{"s":"power","t":16.42,"v":0},{"s":"power","t":16.43,"v":16.5},{"s":"power","t":16.46,"v":15.6},{"s":"power","t":16.48,"v":10},{"s":"power","t":16.49,"v":14},{"s":"power","t":16.53,"v":13},{"s":"power","t":16.54,"v":0},
{"s":"power","t":17.23,"v":0},{"s":"power","t":17.24,"v":16.4},{"s":"power","t":17.27,"v":15.4},{"s":"power","t":17.29,"v":10},{"s":"power","t":17.3,"v":13.8},{"s":"power","t":17.34,"v":12.8},{"s":"power","t":17.35,"v":0},
{"s":"power","t":18.66,"v":0},{"s":"power","t":18.67,"v":15.8},{"s":"power","t":18.7,"v":15.0},{"s":"power","t":18.72,"v":10},{"s":"power","t":18.73,"v":13.8},{"s":"power","t":18.77,"v":12.8},{"s":"power","t":18.78,"v":0},
{"s":"power","t":19.49,"v":0},{"s":"power","t":19.5,"v":15.9},{"s":"power","t":19.53,"v":15.0},{"s":"power","t":19.55,"v":10},{"s":"power","t":19.56,"v":13.8},{"s":"power","t":19.6,"v":12.8},{"s":"power","t":19.61,"v":0},
{"s":"power","t":20.23,"v":0},{"s":"power","t":20.24,"v":15.3},{"s":"power","t":20.27,"v":14.6},{"s":"power","t":20.29,"v":10},{"s":"power","t":20.3,"v":13.5},{"s":"power","t":20.34,"v":12.6},{"s":"power","t":20.35,"v":0},
{"s":"power","t":21.21,"v":0},{"s":"power","t":21.22,"v":15.6},{"s":"power","t":21.25,"v":14.8},{"s":"power","t":21.27,"v":10},{"s":"power","t":21.28,"v":13.6},{"s":"power","t":21.32,"v":12.7},{"s":"power","t":21.33,"v":0},
{"s":"power","t":22.38,"v":0},{"s":"power","t":22.39,"v":17.4},{"s":"power","t":22.42,"v":16.0},{"s":"power","t":22.44,"v":10},{"s":"power","t":22.45,"v":14},{"s":"power","t":22.49,"v":13},{"s":"power","t":22.5,"v":0},
{"s":"power","t":22.6,"v":0},{"s":"power","t":22.61,"v":16.4},{"s":"power","t":22.65,"v":15.0},{"s":"power","t":22.7,"v":14.0},{"s":"power","t":22.75,"v":14.5},{"s":"power","t":22.8,"v":13.6},{"s":"power","t":22.85,"v":13.9},{"s":"power","t":22.9,"v":13.1},{"s":"power","t":22.95,"v":13.3},{"s":"power","t":23.0,"v":12.6},{"s":"power","t":23.05,"v":12.8},{"s":"power","t":23.1,"v":12.1},{"s":"power","t":23.15,"v":12.2},{"s":"power","t":23.2,"v":11.6},{"s":"power","t":23.27,"v":11.5},{"s":"power","t":23.28,"v":0},
{"s":"power","t":23.75,"v":0},
{"s":"cum","t":0,"v":0},{"s":"cum","t":0.41,"v":0},{"s":"cum","t":0.6,"v":1.8},{"s":"cum","t":1.37,"v":1.8},{"s":"cum","t":1.49,"v":3.1},{"s":"cum","t":3.1,"v":3.1},{"s":"cum","t":3.23,"v":4.2},{"s":"cum","t":3.89,"v":4.2},{"s":"cum","t":4.0,"v":5.3},{"s":"cum","t":5.14,"v":5.3},{"s":"cum","t":5.27,"v":6.6},{"s":"cum","t":6.38,"v":6.6},{"s":"cum","t":6.5,"v":7.8},{"s":"cum","t":7.1,"v":7.8},{"s":"cum","t":7.23,"v":9.3},{"s":"cum","t":9.0,"v":9.3},{"s":"cum","t":9.71,"v":18.0},{"s":"cum","t":10.43,"v":18.0},{"s":"cum","t":10.55,"v":19.1},{"s":"cum","t":11.95,"v":19.1},{"s":"cum","t":12.07,"v":20.4},{"s":"cum","t":12.9,"v":20.4},{"s":"cum","t":13.02,"v":21.6},{"s":"cum","t":13.5,"v":21.6},{"s":"cum","t":13.62,"v":23.1},{"s":"cum","t":14.88,"v":23.1},{"s":"cum","t":15.0,"v":24.5},{"s":"cum","t":15.04,"v":24.6},{"s":"cum","t":15.7,"v":33.0},{"s":"cum","t":16.42,"v":33.0},{"s":"cum","t":16.54,"v":34.2},{"s":"cum","t":17.23,"v":34.2},{"s":"cum","t":17.35,"v":35.9},{"s":"cum","t":18.66,"v":35.9},{"s":"cum","t":18.78,"v":37.1},{"s":"cum","t":19.49,"v":37.1},{"s":"cum","t":19.61,"v":38.6},{"s":"cum","t":20.23,"v":38.6},{"s":"cum","t":20.35,"v":39.8},{"s":"cum","t":21.21,"v":39.8},{"s":"cum","t":21.33,"v":41.3},{"s":"cum","t":22.38,"v":41.3},{"s":"cum","t":22.5,"v":42.6},{"s":"cum","t":22.6,"v":42.7},{"s":"cum","t":23.28,"v":50.4},{"s":"cum","t":23.67,"v":50.4},
{"s":"flow","t":0,"v":0},{"s":"flow","t":7.44,"v":0},{"s":"flow","t":7.45,"v":7.8},{"s":"flow","t":7.47,"v":7.5},{"s":"flow","t":7.48,"v":0},{"s":"flow","t":9.0,"v":0},{"s":"flow","t":9.01,"v":7.8},{"s":"flow","t":9.03,"v":7.4},{"s":"flow","t":9.05,"v":0.3},{"s":"flow","t":9.06,"v":7.0},{"s":"flow","t":9.08,"v":6.8},{"s":"flow","t":9.1,"v":6.5},{"s":"flow","t":9.11,"v":0},{"s":"flow","t":9.3,"v":0},{"s":"flow","t":9.31,"v":7.3},{"s":"flow","t":9.34,"v":7.0},{"s":"flow","t":9.36,"v":6.8},{"s":"flow","t":9.37,"v":0},{"s":"flow","t":10.97,"v":0},{"s":"flow","t":10.98,"v":7.5},{"s":"flow","t":11.01,"v":7.2},{"s":"flow","t":11.04,"v":6.8},{"s":"flow","t":11.07,"v":6.5},{"s":"flow","t":11.08,"v":0},{"s":"flow","t":15.05,"v":0},{"s":"flow","t":15.06,"v":7.6},{"s":"flow","t":15.09,"v":7.2},{"s":"flow","t":15.1,"v":0.5},{"s":"flow","t":15.11,"v":7.0},{"s":"flow","t":15.14,"v":6.8},{"s":"flow","t":15.15,"v":0.3},{"s":"flow","t":15.16,"v":7.2},{"s":"flow","t":15.19,"v":6.9},{"s":"flow","t":15.2,"v":0.3},{"s":"flow","t":15.21,"v":7.0},{"s":"flow","t":15.25,"v":6.5},{"s":"flow","t":15.26,"v":0.2},{"s":"flow","t":15.27,"v":6.8},{"s":"flow","t":15.3,"v":6.3},{"s":"flow","t":15.31,"v":0},{"s":"flow","t":20.76,"v":0},{"s":"flow","t":20.77,"v":2.0},{"s":"flow","t":20.79,"v":2.0},{"s":"flow","t":20.8,"v":0},{"s":"flow","t":22.6,"v":0},{"s":"flow","t":22.61,"v":7.6},{"s":"flow","t":22.65,"v":7.0},{"s":"flow","t":22.68,"v":6.8},{"s":"flow","t":22.69,"v":0.3},{"s":"flow","t":22.7,"v":7.2},{"s":"flow","t":22.74,"v":6.6},{"s":"flow","t":22.76,"v":0.2},{"s":"flow","t":22.8,"v":0},{"s":"flow","t":22.81,"v":7.2},{"s":"flow","t":22.85,"v":6.9},{"s":"flow","t":22.86,"v":0.3},{"s":"flow","t":22.87,"v":7.0},{"s":"flow","t":22.92,"v":6.6},{"s":"flow","t":22.97,"v":6.4},{"s":"flow","t":22.98,"v":0},{"s":"flow","t":23.75,"v":0},
{"s":"h2","t":0,"v":0},{"s":"h2","t":7.44,"v":0},{"s":"h2","t":7.5,"v":0.4},{"s":"h2","t":9.0,"v":0.4},{"s":"h2","t":9.1,"v":2.5},{"s":"h2","t":9.3,"v":3.0},{"s":"h2","t":9.4,"v":3.4},{"s":"h2","t":10.97,"v":3.4},{"s":"h2","t":11.07,"v":4.8},{"s":"h2","t":15.03,"v":4.8},{"s":"h2","t":15.36,"v":7.8},{"s":"h2","t":22.6,"v":7.8},{"s":"h2","t":23.02,"v":13.0},{"s":"h2","t":23.67,"v":13.0}
]
},
"vconcat":[
{
"width":1119,"height":346,
"title":{"text":"(a) Overhead Cooling Energy Use","offset":16,"dx":-13},
"encoding":{
"x":{"field":"t","type":"quantitative","scale":{"domain":[0,23.75],"nice":false,"zero":false},"axis":{"values":[0,1,2,3,4,5,6,7,8,9,10,11,12,13,14,15,16,17,18,19,20,21,22,23],"title":"Hour of Day","titleAnchor":"end","ticks":false,"labelPadding":21,"titlePadding":10,"labelFlush":false}},
"y":{"field":"v","type":"quantitative","scale":{"domain":[0,50],"nice":false},"axis":{"values":[0,5,10,15,20,25,30,35,40,45,50],"title":null,"tickSize":7,"tickOpacity":0,"labelPadding":13}},
"color":{"field":"s","type":"nominal","scale":{"domain":["temp","power","cum","flow"],"range":["#a3a3a3","#d9601e","#62c52a","#5b8ff9"]},"legend":{"legendX":28,"legendY":20,"labelExpr":"datum.value=='temp'?'Ambient Temperature [°C], Daily Average: 14°C (57°F)':datum.value=='power'?'Electric Power Consumption [kW]':datum.value=='cum'?'Cumulative Electric Energy Consumption [kWh]':'H₂ Flow Rate [g/sec]'"}},
"strokeDash":{"field":"s","type":"nominal","scale":{"domain":["temp","power","cum","flow"],"range":[[1,0],[1,0],[8,5],[1,0]]},"legend":{"legendX":28,"legendY":20,"labelExpr":"datum.value=='temp'?'Ambient Temperature [°C], Daily Average: 14°C (57°F)':datum.value=='power'?'Electric Power Consumption [kW]':datum.value=='cum'?'Cumulative Electric Energy Consumption [kWh]':'H₂ Flow Rate [g/sec]'"}}
},
"layer":[
{"data":{"name":"a"},"transform":[{"filter":"datum.s=='temp'"}],"mark":{"type":"line","strokeWidth":2.8,"strokeJoin":"round"}},
{"data":{"name":"a"},"transform":[{"filter":"datum.s=='power'"}],"mark":{"type":"line","strokeWidth":2.5}},
{"data":{"name":"a"},"transform":[{"filter":"datum.s=='cum'"}],"mark":{"type":"line","strokeWidth":3}},
{"data":{"name":"a"},"transform":[{"filter":"datum.s=='flow'"}],"mark":{"type":"line","strokeWidth":2.4}},
{"data":{"values":[{"t":22.85,"v":49.8},{"t":23.14,"v":49.8},{"t":23.65,"v":45}]},"mark":{"type":"line","strokeWidth":1.5},"encoding":{"color":{"value":"#808080"},"strokeDash":{"value":[1,0]}}},
{"data":{"values":[{"t":23.65,"v":45}]},"mark":{"type":"point","filled":true,"size":250,"fill":"#5aa33c","stroke":"#47862e","strokeWidth":1.5,"opacity":1},"encoding":{"color":{"value":"#5aa33c"},"strokeDash":{"value":[1,0]}}},
{"data":{"values":[{"t":22.85,"v":49.8,"txt":"DE"}]},"mark":{"type":"text","align":"left","baseline":"middle","fontSize":22,"dx":-234,"dy":2},"encoding":{"text":{"field":"txt"},"color":{"value":"#222"}}},
{"data":{"values":[{"t":22.85,"v":49.8,"txt":"overhead"}]},"mark":{"type":"text","align":"left","baseline":"middle","fontSize":14,"dx":-206,"dy":9},"encoding":{"text":{"field":"txt"},"color":{"value":"#222"}}},
{"data":{"values":[{"t":22.85,"v":49.8,"txt":": 45 kWh"}]},"mark":{"type":"text","align":"left","baseline":"middle","fontSize":22,"dx":-149,"dy":2},"encoding":{"text":{"field":"txt"},"color":{"value":"#222"}}},
{"data":{"values":[{"t":22.85,"v":49.8,"txt":"e"}]},"mark":{"type":"text","align":"left","baseline":"middle","fontSize":14,"dx":-59,"dy":9},"encoding":{"text":{"field":"txt"},"color":{"value":"#222"}}},
{"data":{"values":[{"t":22.85,"v":49.8,"txt":"/day"}]},"mark":{"type":"text","align":"left","baseline":"middle","fontSize":22,"dx":-51,"dy":2},"encoding":{"text":{"field":"txt"},"color":{"value":"#222"}}}
]
},
{
"width":1119,"height":335,
"title":{"text":"(b) Overall (Refueling + Overhead) Cooling Energy Use","offset":-5,"dx":-14},
"encoding":{
"x":{"field":"t","type":"quantitative","scale":{"domain":[0,23.75],"nice":false,"zero":false},"axis":{"values":[0,1,2,3,4,5,6,7,8,9,10,11,12,13,14,15,16,17,18,19,20,21,22,23],"title":"Hour of Day","titleAnchor":"end","ticks":false,"labelPadding":21,"titlePadding":8,"labelFlush":false}},
"y":{"field":"v","type":"quantitative","scale":{"domain":[0,50],"nice":false},"axis":{"values":[0,5,10,15,20,25,30,35,40,45,50],"title":null,"tickSize":7,"labelPadding":13}},
"color":{"field":"s","type":"nominal","scale":{"domain":["temp","power","cum","flow","h2"],"range":["#a3a3a3","#d9601e","#62c52a","#5b8ff9","#5c1f99"]},"legend":{"legendX":22,"legendY":5,"rowPadding":9,"labelExpr":"datum.value=='temp'?'Ambient Temperature [°C], Daily Average: 14°C (57°F)':datum.value=='power'?'Electric Power Consumption [kW]':datum.value=='cum'?'Cumulative Electric Energy Consumption [kWh]':datum.value=='flow'?'H₂ Flow Rate [g/sec]':'Cumulative H₂ Dispensed [kg H₂]'"}},
"strokeDash":{"field":"s","type":"nominal","scale":{"domain":["temp","power","cum","flow","h2"],"range":[[1,0],[1,0],[8,5],[1,0],[7,5]]},"legend":{"legendX":22,"legendY":5,"rowPadding":9,"labelExpr":"datum.value=='temp'?'Ambient Temperature [°C], Daily Average: 14°C (57°F)':datum.value=='power'?'Electric Power Consumption [kW]':datum.value=='cum'?'Cumulative Electric Energy Consumption [kWh]':datum.value=='flow'?'H₂ Flow Rate [g/sec]':'Cumulative H₂ Dispensed [kg H₂]'"}}
},
"layer":[
{"data":{"name":"b"},"transform":[{"filter":"datum.s=='temp'"}],"mark":{"type":"line","strokeWidth":2.8,"strokeJoin":"round"}},
{"data":{"name":"b"},"transform":[{"filter":"datum.s=='power'"}],"mark":{"type":"line","strokeWidth":2.5}},
{"data":{"name":"b"},"transform":[{"filter":"datum.s=='cum'"}],"mark":{"type":"line","strokeWidth":3}},
{"data":{"name":"b"},"transform":[{"filter":"datum.s=='flow'"}],"mark":{"type":"line","strokeWidth":2.4}},
{"data":{"name":"b"},"transform":[{"filter":"datum.s=='h2'"}],"mark":{"type":"line","strokeWidth":2.6}},
{"data":{"values":[{"t":23.14,"v":54.9},{"t":23.35,"v":54.9},{"t":23.67,"v":50.4}]},"mark":{"type":"line","strokeWidth":1.5},"encoding":{"color":{"value":"#808080"},"strokeDash":{"value":[1,0]}}},
{"data":{"values":[{"t":23.23,"v":19.6},{"t":23.46,"v":19.6},{"t":23.67,"v":13.0}]},"mark":{"type":"line","strokeWidth":1.5},"encoding":{"color":{"value":"#808080"},"strokeDash":{"value":[1,0]}}},
{"data":{"values":[{"t":23.67,"v":50.4}]},"mark":{"type":"point","filled":true,"size":250,"fill":"#5aa33c","stroke":"#47862e","strokeWidth":1.5,"opacity":1},"encoding":{"color":{"value":"#5aa33c"},"strokeDash":{"value":[1,0]}}},
{"data":{"values":[{"t":23.67,"v":13.0}]},"mark":{"type":"point","filled":true,"size":230,"fill":"#5c1f99","stroke":"#4a1680","strokeWidth":1.5,"opacity":1},"encoding":{"color":{"value":"#5c1f99"},"strokeDash":{"value":[1,0]}}},
{"data":{"values":[{"t":23.14,"v":54.9,"txt":"DE"}]},"mark":{"type":"text","align":"left","baseline":"middle","fontSize":22,"dx":-223,"dy":0},"encoding":{"text":{"field":"txt"},"color":{"value":"#222"}}},
{"data":{"values":[{"t":23.14,"v":54.9,"txt":"total"}]},"mark":{"type":"text","align":"left","baseline":"middle","fontSize":14,"dx":-195,"dy":8},"encoding":{"text":{"field":"txt"},"color":{"value":"#222"}}},
{"data":{"values":[{"t":23.14,"v":54.9,"txt":": 50.4 kWh"}]},"mark":{"type":"text","align":"left","baseline":"middle","fontSize":22,"dx":-166,"dy":0},"encoding":{"text":{"field":"txt"},"color":{"value":"#222"}}},
{"data":{"values":[{"t":23.14,"v":54.9,"txt":"e"}]},"mark":{"type":"text","align":"left","baseline":"middle","fontSize":14,"dx":-59,"dy":8},"encoding":{"text":{"field":"txt"},"color":{"value":"#222"}}},
{"data":{"values":[{"t":23.14,"v":54.9,"txt":"/day"}]},"mark":{"type":"text","align":"left","baseline":"middle","fontSize":22,"dx":-51,"dy":0},"encoding":{"text":{"field":"txt"},"color":{"value":"#222"}}},
{"data":{"values":[{"t":23.23,"v":19.6,"txt":"DDH"}]},"mark":{"type":"text","align":"left","baseline":"middle","fontSize":21,"dx":-197,"dy":3},"encoding":{"text":{"field":"txt"},"color":{"value":"#222"}}},
{"data":{"values":[{"t":23.23,"v":19.6,"txt":"2"}]},"mark":{"type":"text","align":"left","baseline":"middle","fontSize":14,"dx":-148,"dy":10},"encoding":{"text":{"field":"txt"},"color":{"value":"#222"}}},
{"data":{"values":[{"t":23.23,"v":19.6,"txt":": 13 kg-H"}]},"mark":{"type":"text","align":"left","baseline":"middle","fontSize":21,"dx":-140,"dy":3},"encoding":{"text":{"field":"txt"},"color":{"value":"#222"}}},
{"data":{"values":[{"t":23.23,"v":19.6,"txt":"2"}]},"mark":{"type":"text","align":"left","baseline":"middle","fontSize":14,"dx":-52,"dy":10},"encoding":{"text":{"field":"txt"},"color":{"value":"#222"}}},
{"data":{"values":[{"t":23.23,"v":19.6,"txt":"/day"}]},"mark":{"type":"text","align":"left","baseline":"middle","fontSize":21,"dx":-44,"dy":3},"encoding":{"text":{"field":"txt"},"color":{"value":"#222"}}}
]
}
]
}
